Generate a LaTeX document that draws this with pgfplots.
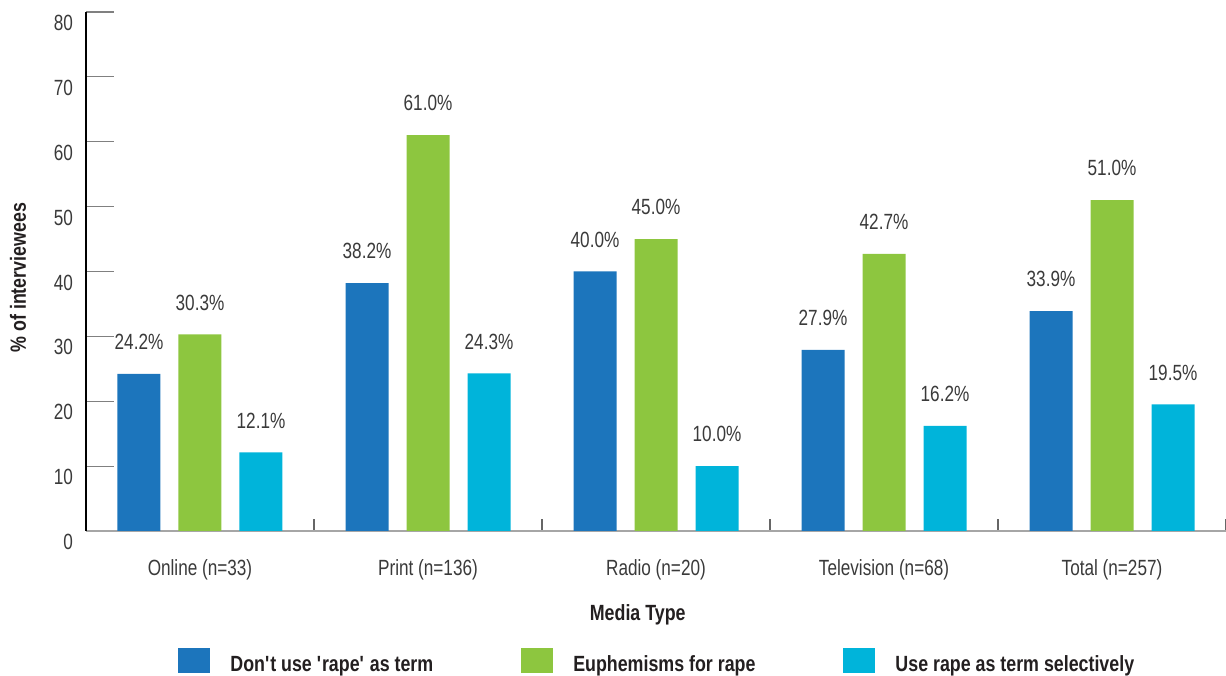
\documentclass[border=0pt]{standalone}
\usepackage{fontspec}
\setmainfont{Liberation Sans}[FakeStretch=0.78]
\newfontfamily\legfont{Liberation Sans}[FakeStretch=0.81]
\usepackage{pgfplots}
\pgfplotsset{compat=1.18}
\definecolor{cBlue}{HTML}{1C75BC}
\definecolor{cGreen}{HTML}{8DC63F}
\definecolor{cCyan}{HTML}{00B4DA}
\definecolor{txt}{HTML}{3A3A3A}
\definecolor{dark}{HTML}{231F20}
\begin{document}
\begin{tikzpicture}
\begin{axis}[
  scale only axis,
  width=570pt, height=259.5pt,
  ybar=9pt, bar width=21.5pt,
  xmin=-0.5, xmax=4.5, ymin=0, ymax=80,
  axis lines=left, axis line style={-},
  x axis line style={gray!70, line width=0.8pt},
  y axis line style={black, line width=0.6pt},
  xtick={0,...,4},
  xticklabels={Online (n=33),Print (n=136),Radio (n=20),Television (n=68),Total (n=257)},
  minor xtick={0.5,1.5,2.5,3.5,4.5},
  ytick={0,10,...,80},
  tick align=inside,
  major tick length=14pt, minor tick length=6pt,
  major x tick style={draw=none},
  ytick style={gray, line width=0.6pt},
  minor tick style={gray!80!black, line width=0.6pt},
  /pgf/number format/assume math mode=true,
  tick label style={font=\fontsize{11}{13}\selectfont, text=txt},
  yticklabel style={xshift=-3pt, yshift=-5.5pt},
  xticklabel style={yshift=-11pt},
  xlabel={Media Type},
  ylabel={\% of interviewees},
  label style={font=\fontsize{11}{13}\selectfont\legfont\bfseries, text=dark},
  xlabel style={at={(axis description cs:0.484,-0.162)}, anchor=center},
  ylabel style={at={(axis description cs:-0.0596,0.488)}, anchor=center},
  nodes near coords={\pgfmathprintnumber[fixed,fixed zerofill,precision=1]{\pgfplotspointmeta}\%},
  every node near coord/.append style={font=\fontsize{11}{13}\selectfont, text=txt, yshift=8.5pt},
  legend columns=3,
  legend style={at={(axis description cs:0.0807,-0.2254)}, anchor=north west, draw=none,
    inner sep=0pt, font=\fontsize{11}{13}\selectfont\legfont\bfseries, text=dark,
    /tikz/every odd column/.append style={column sep=8pt},
    /tikz/every even column/.append style={column sep=42pt}},
  legend image code/.code={\fill[#1, draw=none] (0pt,-4pt) rectangle (16pt,8.5pt);},
]
\addplot[fill=cBlue, draw=none] coordinates {(0,24.2) (1,38.2) (2,40.0) (3,27.9) (4,33.9)};
\addplot[fill=cGreen, draw=none] coordinates {(0,30.3) (1,61.0) (2,45.0) (3,42.7) (4,51.0)};
\addplot[fill=cCyan, draw=none] coordinates {(0,12.1) (1,24.3) (2,10.0) (3,16.2) (4,19.5)};
\legend{Don\textquotesingle t use \textquotesingle rape\textquotesingle{} as term, Euphemisms for rape, Use rape as term selectively}
\coordinate (tl) at (rel axis cs:0,1);
\coordinate (br) at (rel axis cs:1,0);
\end{axis}
\pgfresetboundingbox
\path ([shift={(-43pt,6pt)}]tl) rectangle ([shift={(0pt,-72.5pt)}]br);
\end{tikzpicture}
\end{document}
